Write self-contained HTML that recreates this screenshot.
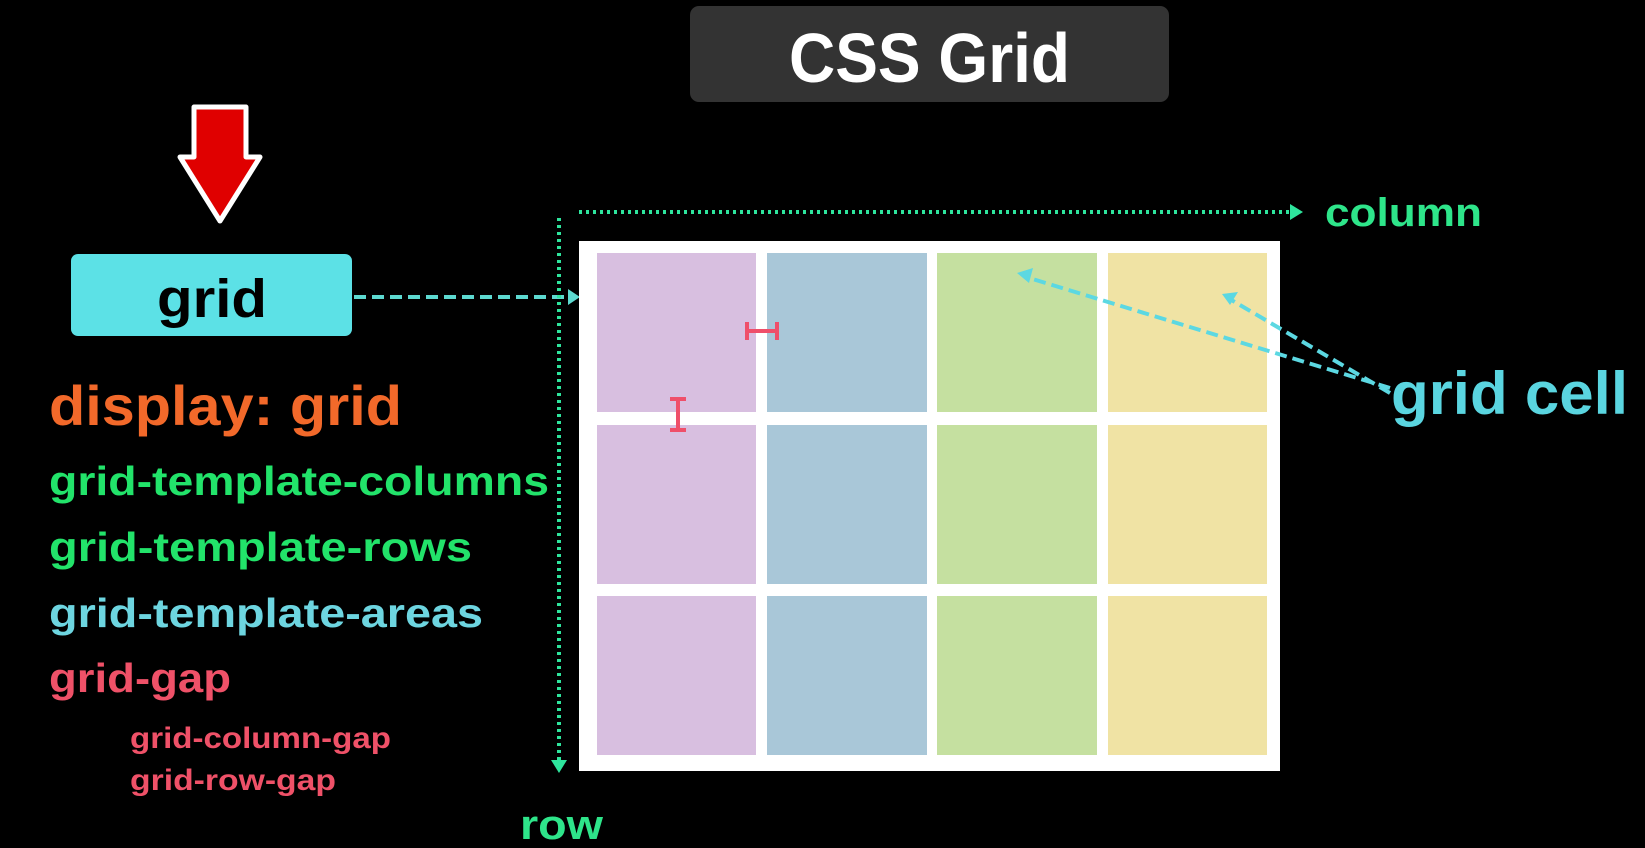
<!DOCTYPE html>
<html><head><meta charset="utf-8"><style>
html,body{margin:0;padding:0;background:#000;}
svg{display:block}
text{font-family:"Liberation Sans Narrow","Liberation Sans",sans-serif;font-weight:bold}
</style></head><body>
<svg width="1645" height="848" viewBox="0 0 1645 848" xmlns="http://www.w3.org/2000/svg">
<rect width="1645" height="848" fill="#000"/>
<!-- title -->
<rect x="690" y="6" width="479" height="96" rx="9" fill="#333333"/>
<text x="789" y="82" font-size="70" fill="#fff" textLength="281" lengthAdjust="spacingAndGlyphs">CSS Grid</text>
<!-- red arrow -->
<path d="M194,107 L246,107 L246,157 L260,157 L220,221 L180,157 L194,157 Z" fill="#e00000" stroke="#fff" stroke-width="5" stroke-linejoin="round"/>
<!-- grid box -->
<rect x="71" y="254" width="281" height="82" rx="7" fill="#5ce1e6"/>
<text x="157" y="317" font-size="54" fill="#000" textLength="110" lengthAdjust="spacingAndGlyphs">grid</text>
<!-- dashed arrow from grid -->
<line x1="354" y1="297" x2="570" y2="297" stroke="#5dd9d0" stroke-width="4" stroke-dasharray="12,6"/>
<path d="M568,289 L580,297 L568,305 Z" fill="#5dd9d0"/>
<!-- green dotted axes -->
<line x1="579" y1="212" x2="1292" y2="212" stroke="#2ee59d" stroke-width="4" stroke-dasharray="3,4"/>
<path d="M1290,204 L1303,212 L1290,220 Z" fill="#2ee59d"/>
<line x1="559" y1="218" x2="559" y2="762" stroke="#2ee59d" stroke-width="4" stroke-dasharray="3,4"/>
<path d="M551,760 L559,773 L567,760 Z" fill="#2ee59d"/>
<text x="1325" y="226" font-size="40" fill="#2ee58a" textLength="157" lengthAdjust="spacingAndGlyphs">column</text>
<text x="520" y="839" font-size="42" fill="#2ee58a" textLength="83" lengthAdjust="spacingAndGlyphs">row</text>
<!-- grid frame -->
<rect x="579" y="241" width="701" height="530" fill="#fff"/>
<g>
<rect x="597" y="253" width="159" height="159" fill="#d8bfe0"/>
<rect x="767" y="253" width="160" height="159" fill="#a9c7d8"/>
<rect x="937" y="253" width="160" height="159" fill="#c5e0a0"/>
<rect x="1108" y="253" width="159" height="159" fill="#f0e3a4"/>
<rect x="597" y="425" width="159" height="159" fill="#d8bfe0"/>
<rect x="767" y="425" width="160" height="159" fill="#a9c7d8"/>
<rect x="937" y="425" width="160" height="159" fill="#c5e0a0"/>
<rect x="1108" y="425" width="159" height="159" fill="#f0e3a4"/>
<rect x="597" y="596" width="159" height="159" fill="#d8bfe0"/>
<rect x="767" y="596" width="160" height="159" fill="#a9c7d8"/>
<rect x="937" y="596" width="160" height="159" fill="#c5e0a0"/>
<rect x="1108" y="596" width="159" height="159" fill="#f0e3a4"/>
</g>
<!-- gap markers -->
<g stroke="#ef4f6a" stroke-width="4">
<line x1="747" y1="331" x2="777" y2="331"/><line x1="747" y1="322" x2="747" y2="340"/><line x1="777" y1="322" x2="777" y2="340"/>
<line x1="678" y1="399" x2="678" y2="430"/><line x1="670" y1="399" x2="686" y2="399"/><line x1="670" y1="430" x2="686" y2="430"/>
</g>
<!-- grid cell pointers -->
<g stroke="#5cd8e2" stroke-width="4" stroke-dasharray="12,6">
<line x1="1390" y1="388" x2="1026" y2="277"/>
<line x1="1390" y1="393" x2="1228" y2="298"/>
</g>
<path d="M1017,273 L1033,268 L1029,283 Z" fill="#5cd8e2"/>
<path d="M1222,294 L1238,292 L1230,305 Z" fill="#5cd8e2"/>
<text x="1391" y="414" font-size="60" fill="#5ad5e0" textLength="237" lengthAdjust="spacingAndGlyphs">grid cell</text>
<!-- left list -->
<text x="49" y="425" font-size="56" fill="#f2692a" textLength="353" lengthAdjust="spacingAndGlyphs">display: grid</text>
<text x="49" y="495" font-size="41" fill="#22e36a" textLength="500" lengthAdjust="spacingAndGlyphs">grid-template-columns</text>
<text x="49" y="561" font-size="41" fill="#22e36a" textLength="423" lengthAdjust="spacingAndGlyphs">grid-template-rows</text>
<text x="49" y="627" font-size="41" fill="#6dd5e0" textLength="434" lengthAdjust="spacingAndGlyphs">grid-template-areas</text>
<text x="49" y="692" font-size="41" fill="#ef5168" textLength="182" lengthAdjust="spacingAndGlyphs">grid-gap</text>
<text x="130" y="748" font-size="30" fill="#ef5168" textLength="261" lengthAdjust="spacingAndGlyphs">grid-column-gap</text>
<text x="130" y="790" font-size="30" fill="#ef5168" textLength="206" lengthAdjust="spacingAndGlyphs">grid-row-gap</text>
</svg>
</body></html>
